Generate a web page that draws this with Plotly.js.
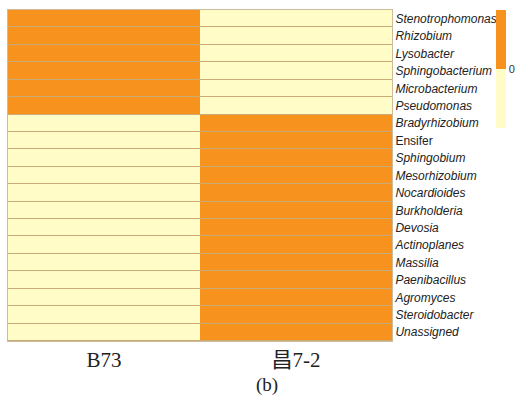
<!DOCTYPE html>
<html>
<head>
<meta charset="utf-8">
<script src="https://cdn.plot.ly/plotly-3.0.1.min.js"></script>
<style>html,body{margin:0;padding:0;background:#fff;overflow:hidden;}</style>
</head>
<body>
<div id="chart" style="width:516px;height:395px;"></div>
<script>
const samples = ["B73", "昌7-2"];
const genera = ["Stenotrophomonas","Rhizobium","Lysobacter","Sphingobacterium","Microbacterium","Pseudomonas","Bradyrhizobium","Ensifer","Sphingobium","Mesorhizobium","Nocardioides","Burkholderia","Devosia","Actinoplanes","Massilia","Paenibacillus","Agromyces","Steroidobacter","Unassigned"];
const italicGenus = [true,true,true,true,true,true,true,false,true,true,true,true,true,true,true,true,true,true,true];
const valB73 = [1,1,1,1,1,1,-1,-1,-1,-1,-1,-1,-1,-1,-1,-1,-1,-1,-1];
const valChang = [-1,-1,-1,-1,-1,-1,1,1,1,1,1,1,1,1,1,1,1,1,1];

const z = genera.map((g,i)=>[valB73[i], valChang[i]]);
const ticktext = genera.map((g,i)=> italicGenus[i] ? "<i>"+g+"</i>" : g);

const trace = {
  type: "heatmap",
  x: samples,
  y: genera,
  z: z,
  zmin: -1, zmax: 1,
  ygap: 1,
  colorscale: [[0,"#FFFCC8"],[0.5,"#FFFCC8"],[0.5,"#F8921E"],[1,"#F8921E"]],
  hoverinfo: "skip",
  colorbar: {
    x: 1.2708, xanchor: "left", xref: "paper",
    xpad: 0, ypad: 0,
    thickness: 10, thicknessmode: "pixels",
    len: 118, lenmode: "pixels",
    y: 1, yanchor: "top",
    outlinewidth: 0,
    tickvals: [0], ticktext: ["0"],
    ticks: "", ticklen: 0,
    tickfont: {family: "Liberation Sans, Arial", size: 11, color: "#333"}
  }
};

const layout = {
  width: 516, height: 395,
  margin: {l: 8, r: 124, t: 10, b: 54, autoexpand: false},
  paper_bgcolor: "#ffffff",
  plot_bgcolor: "#c9ab78",
  showlegend: false,
  xaxis: {
    type: "category",
    automargin: false,
    showgrid: false, zeroline: false,
    ticks: "",
    showline: true, mirror: true, linecolor: "#cdbb9a", linewidth: 1,
    tickfont: {family: "Liberation Serif, 'Noto Sans CJK SC', serif", size: 21, color: "#222"}
  },
  yaxis: {
    type: "category",
    automargin: false,
    autorange: "reversed",
    side: "right",
    showgrid: false, zeroline: false,
    ticks: "",
    showline: true, mirror: true, linecolor: "#cdbb9a", linewidth: 1,
    tickmode: "array", tickvals: genera, ticktext: ticktext,
    tickfont: {family: "Liberation Sans, Arial, sans-serif", size: 12, color: "#222"}
  },
  annotations: [{
    text: "(b)", xref: "paper", yref: "paper",
    x: 0.674, y: -0.133, xanchor: "center", yanchor: "middle",
    showarrow: false,
    font: {family: "Liberation Serif, serif", size: 19, color: "#222"}
  }]
};

Plotly.newPlot("chart", [trace], layout, {displayModeBar: false, staticPlot: true});
</script>
</body>
</html>
